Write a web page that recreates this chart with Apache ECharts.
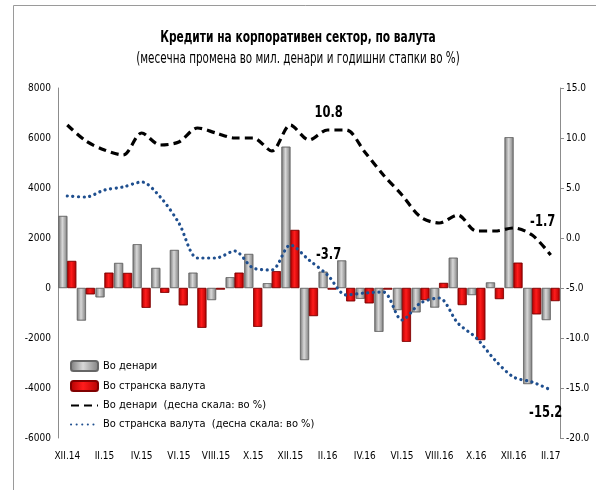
<!DOCTYPE html>
<html>
<head>
<meta charset="utf-8">
<script src="https://cdn.jsdelivr.net/npm/echarts@6/dist/echarts.min.js"></script>
<style>
  html, body { margin: 0; padding: 0; background: #fff; }
  #chart { width: 596px; height: 490px; }
</style>
</head>
<body>
<div id="chart"></div>
<script>
// месеци XII.14 - II.17
var months = ["XII.14", "I.15", "II.15", "III.15", "IV.15", "V.15", "VI.15", "VII.15", "VIII.15",
  "IX.15", "X.15", "XI.15", "XII.15", "I.16", "II.16", "III.16", "IV.16", "V.16", "VI.16",
  "VII.16", "VIII.16", "IX.16", "X.16", "XI.16", "XII.16", "I.17", "II.17"];
// натписи на x-оската (како во оригиналот, VI.16 е напишано VI.15)
var tickLabels = ["XII.14", "", "II.15", "", "IV.15", "", "VI.15", "", "VIII.15", "", "X.15", "",
  "XII.15", "", "II.16", "", "IV.16", "", "VI.15", "", "VIII.16", "", "X.16", "", "XII.16", "", "II.17"];

// месечна промена, мил. денари
var denariChange = [2880, -1300, -370, 1000, 1750, 800, 1520, 610, -480, 430, 1360, 190, 5650,
  -2880, 650, 1100, -430, -1750, -880, -970, -780, 1210, -280, 220, 6030, -3840, -1280];
var foreignChange = [1080, -250, 610, 600, -790, -190, -690, -1590, -60, 610, -1550, 670, 2320,
  -1120, -60, -530, -610, -60, -2150, -480, 200, -680, -2080, -440, 1010, -1050, -520];

// годишни стапки, %
var denariGrowth = [11.3, 9.7, 8.8, 8.3, 10.5, 9.3, 9.6, 11.0, 10.5, 10.0, 10.0, 8.7, 11.3,
  9.8, 10.8, 10.8, 8.6, 6.3, 4.3, 2.1, 1.5, 2.3, 0.7, 0.7, 1.0, 0.3, -1.7];
var foreignGrowth = [4.2, 4.1, 4.8, 5.1, 5.6, 4.1, 1.5, -2.0, -2.0, -1.3, -3.0, -3.2, -0.7,
  -2.2, -3.7, -5.7, -5.5, -5.4, -8.2, -6.5, -6.0, -8.5, -10.0, -12.2, -13.9, -14.4, -15.2];

var seriesNames = ["Во денари", "Во странска валута",
  "Во денари  (десна скала: во %)", "Во странска валута  (десна скала: во %)"];

var titleText = "Кредити на корпоративен сектор, по валута";
var subtitleText = "(месечна промена во мил. денари и годишни стапки во %)";

var narrow = "'Liberation Sans Narrow', 'DejaVu Sans Condensed', 'Liberation Sans', sans-serif";

var myChart = echarts.init(document.getElementById("chart"));

var grayFill = new echarts.graphic.LinearGradient(0, 0, 1, 0, [
  { offset: 0, color: "#777777" },
  { offset: 0.45, color: "#d8d8d8" },
  { offset: 1, color: "#7e7e7e" }
]);
var redFill = new echarts.graphic.LinearGradient(0, 0, 1, 0, [
  { offset: 0, color: "#b00000" },
  { offset: 0.45, color: "#ff1c1c" },
  { offset: 1, color: "#b40000" }
]);

var staticGraphics = [
  {
    type: "rect",
    shape: { x: 13.5, y: 5.5, width: 620, height: 520 },
    style: { fill: null, stroke: "#9a9a9a", lineWidth: 1 },
    silent: true
  },
  {
    type: "text",
    x: 298, y: 38,
    scaleX: 0.74,
    style: { text: titleText, textAlign: "center", textVerticalAlign: "middle",
      font: "bold 16px " + narrow, fill: "#000" }
  },
  {
    type: "text",
    x: 298, y: 59,
    scaleX: 0.77,
    style: { text: subtitleText, textAlign: "center", textVerticalAlign: "middle",
      font: "15px " + narrow, fill: "#000" }
  }
];

var option = {
  animation: false,
  graphic: staticGraphics,
  legend: {
    orient: "vertical",
    left: 65,
    top: 355,
    itemWidth: 27,
    itemHeight: 10,
    itemGap: 8,
    textStyle: { fontFamily: narrow, fontSize: 11, color: "#000" },
    data: [
      { name: seriesNames[0] },
      { name: seriesNames[1] },
      { name: seriesNames[2], itemStyle: { opacity: 0 } },
      { name: seriesNames[3], itemStyle: { opacity: 0 } }
    ]
  },
  grid: { left: 58, right: 36, top: 88, bottom: 52 },
  xAxis: {
    type: "category",
    data: months,
    axisLine: { show: false, onZero: false },
    axisTick: { show: false },
    axisLabel: {
      interval: 0,
      margin: 13,
      fontFamily: narrow,
      fontSize: 10,
      color: "#000",
      formatter: function (val, idx) { return tickLabels[idx]; }
    }
  },
  yAxis: [
    {
      type: "value",
      min: -6000,
      max: 8000,
      interval: 2000,
      axisLine: { show: true, lineStyle: { color: "#8c8c8c" } },
      axisTick: { show: false },
      splitLine: { show: false },
      axisLabel: { margin: 7, fontFamily: narrow, fontSize: 10, color: "#000",
        formatter: function (v) { return String(v); } }
    },
    {
      type: "value",
      min: -20,
      max: 15,
      interval: 5,
      axisLine: { show: true, lineStyle: { color: "#8c8c8c" } },
      axisTick: { show: true, length: 4, lineStyle: { color: "#8c8c8c" } },
      splitLine: { show: false },
      axisLabel: {
        margin: 6, fontFamily: narrow, fontSize: 10, color: "#000",
        formatter: function (v) { return v.toFixed(1); }
      }
    }
  ],
  series: [
    {
      name: seriesNames[0],
      type: "bar",
      data: denariChange,
      barGap: "0%",
      barCategoryGap: "4%",
      itemStyle: { color: grayFill, borderColor: "#666", borderWidth: 0.6 }
    },
    {
      name: seriesNames[1],
      type: "bar",
      data: foreignChange,
      barGap: "0%",
      barCategoryGap: "4%",
      itemStyle: { color: redFill, borderColor: "#800000", borderWidth: 0.6 }
    },
    {
      name: seriesNames[2],
      type: "line",
      yAxisIndex: 1,
      data: denariGrowth,
      smooth: 0.3,
      symbol: "none",
      lineStyle: { color: "#000", width: 3.2, type: [8, 5] },
      itemStyle: { color: "#000" },
      z: 5
    },
    {
      name: seriesNames[3],
      type: "line",
      yAxisIndex: 1,
      data: foreignGrowth,
      smooth: 0.3,
      symbol: "none",
      lineStyle: { color: "#1f4f8f", width: 3.2, type: [0.1, 5.5], cap: "round" },
      itemStyle: { color: "#1f4f8f" },
      z: 6
    }
  ]
};

myChart.setOption(option);

// ознаки на вредности, поставени преку скалите на графиконот (збиен фонт)
function valueLabel(seriesIndex, arr, idx, dx, dy) {
  var p = myChart.convertToPixel({ seriesIndex: seriesIndex }, [idx, arr[idx]]);
  return {
    type: "text",
    x: p[0] + dx, y: p[1] + dy,
    scaleX: 0.8,
    z: 100,
    style: { text: arr[idx].toFixed(1), textAlign: "center", textVerticalAlign: "middle",
      font: "bold 16px " + narrow, fill: "#000" }
  };
}

myChart.setOption({
  graphic: staticGraphics.concat([
    valueLabel(2, denariGrowth, 14, 1, -17),
    valueLabel(2, denariGrowth, 26, -8, -33),
    valueLabel(3, foreignGrowth, 14, 1, -20),
    valueLabel(3, foreignGrowth, 26, -5, 23)
  ])
});
</script>
</body>
</html>
